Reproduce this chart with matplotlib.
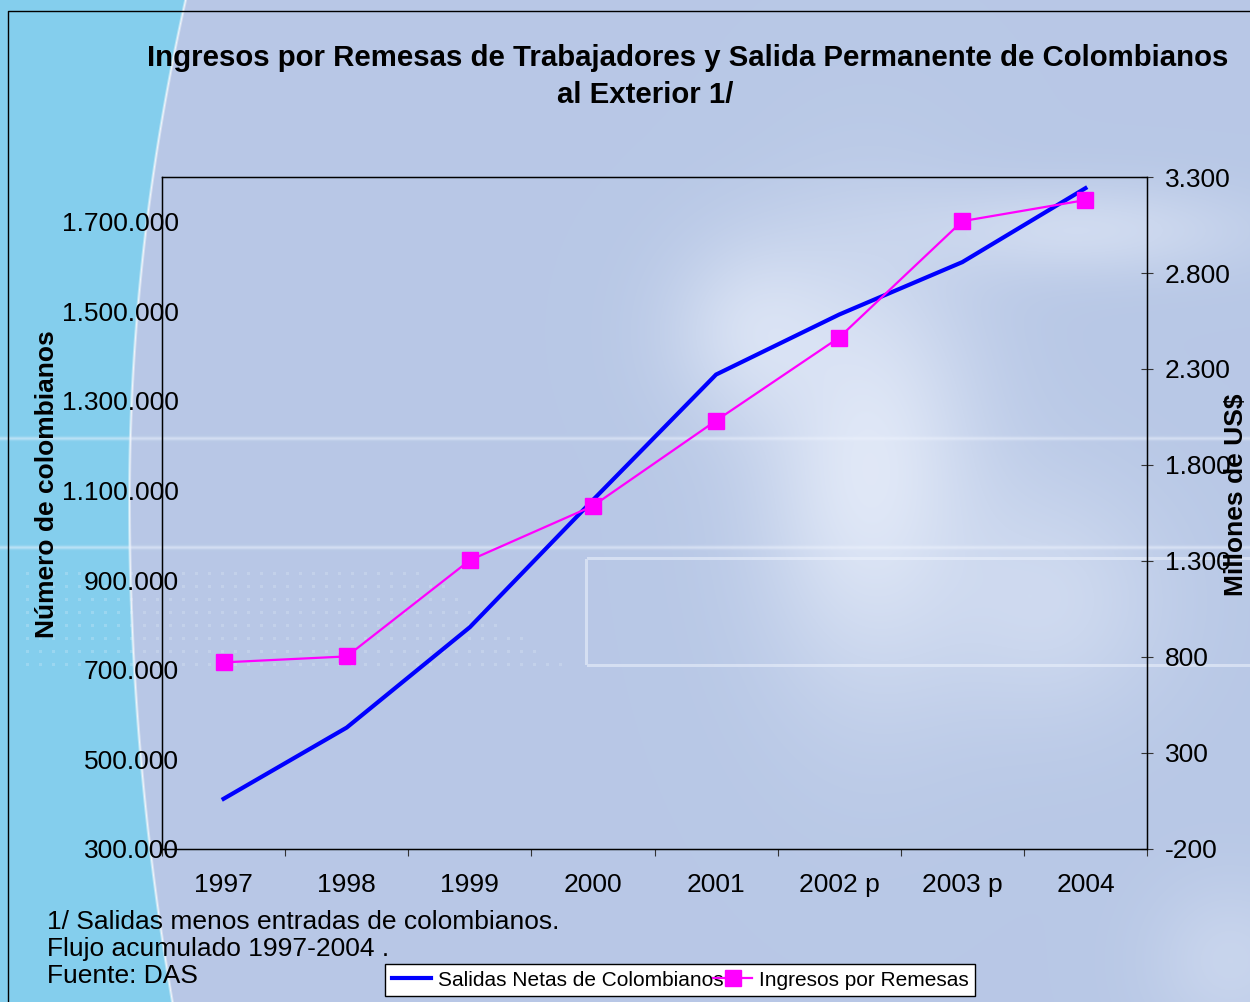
import numpy as np
import matplotlib
matplotlib.use("Agg")
import matplotlib.pyplot as plt
from matplotlib.lines import Line2D

plt.rcParams['font.family'] = ['Liberation Sans', 'DejaVu Sans']

# ---------------- data ----------------
years = ["1997", "1998", "1999", "2000", "2001", "2002 p", "2003 p", "2004"]
salidas = [412000, 571000, 795000, 1079000, 1359000, 1493000, 1610000, 1775000]
remesas = [772, 803, 1304, 1587, 2031, 2464, 3070, 3180]
left_ticks = [300000, 500000, 700000, 900000, 1100000, 1300000, 1500000, 1700000]
right_ticks = [-200, 300, 800, 1300, 1800, 2300, 2800, 3300]

W, H = 1250, 1002
fig = plt.figure(figsize=(W / 100, H / 100), dpi=100)

# ---------------- decorative background ----------------
yy, xx = np.mgrid[0:H, 0:W].astype(float)
base = np.array([0.722, 0.784, 0.902])
img = np.ones((H, W, 3)) * base

def add_white(weight):
    global img
    w = np.clip(weight, 0, 1)[..., None]
    img = img * (1 - w) + np.array([0.93, 0.95, 0.99]) * w

add_white(0.75 * np.exp(-((xx - 870) / 110) ** 2 - ((yy - 470) / 210) ** 2))
add_white(0.55 * np.exp(-((xx - 760) / 90) ** 2 - ((yy - 330) / 90) ** 2))
add_white(0.45 * np.exp(-((xx - 1080) / 170) ** 2 - ((yy - 230) / 45) ** 2))
add_white(0.40 * np.exp(-((xx - 1050) / 120) ** 2 - ((yy - 600) / 120) ** 2))
add_white(0.30 * np.exp(-((xx - 1230) / 80) ** 2 - ((yy - 960) / 80) ** 2))
# faint rectangle outline
rect = ((np.abs(yy - 558) < 1.5) | (np.abs(yy - 665) < 1.5)) & (xx > 586)
rect |= (np.abs(xx - 586) < 1.5) & (yy > 558) & (yy < 665)
add_white(0.55 * rect)

# cyan left region (smooth curve)
ys = yy[:, 0]
bnd = (129 + 56 * ((500 - ys) / 500) ** 2 * (ys < 500) + 43 * ((ys - 500) / 502) ** 2 * (ys >= 500))[:, None]
cyan = np.array([0.52, 0.81, 0.93])
mask = xx < bnd
img[mask] = cyan
edge = np.clip(1 - np.abs(xx - bnd) / 2.0, 0, 1)[..., None]
img = img * (1 - 0.8 * edge) + np.array([1, 1, 1]) * 0.8 * edge

# dotted pattern
dots = ((xx % 13) < 3) & ((yy % 13) < 3) & (yy > 568) & (yy < 668) & (xx > 15) & (xx < 420 + (yy - 568) * 1.5)
add_white(0.22 * dots)
# faint horizontal lines across the whole width
add_white(0.5 * np.exp(-((yy - 438) / 1.8) ** 2))
add_white(0.5 * np.exp(-((yy - 547) / 1.8) ** 2))

bg = fig.add_axes([0, 0, 1, 1], zorder=-10)
bg.imshow(img, aspect='auto', interpolation='bilinear')
bg.set_axis_off()

# outer frame lines
fig.add_artist(Line2D([8 / W, 8 / W, 1.0], [0, 1 - 11 / H, 1 - 11 / H],
                      transform=fig.transFigure, color='black', lw=1.0))

# ---------------- main axes ----------------
L, R, T, B = 162, 1147, 177, 849
ax = fig.add_axes([L / W, 1 - B / H, (R - L) / W, (B - T) / H])
ax.patch.set_alpha(0)
x = np.arange(len(years))
ax.plot(x, salidas, color='#0000ff', lw=3.0, solid_joinstyle='miter', zorder=3)
ax.set_xlim(-0.5, len(years) - 0.5)
ax.set_ylim(300000, 1800000)
ax.set_yticks(left_ticks)
ax.set_yticklabels([f"{v:,.0f}".replace(",", ".") for v in left_ticks], fontsize=19)
ax.tick_params(axis='y', length=0, pad=-12)
ax.set_xticks(np.arange(len(years) + 1) - 0.5)
ax.set_xticklabels([])
ax.set_xticks(x, minor=True)
ax.set_xticklabels(years, minor=True, fontsize=19)
ax.tick_params(axis='x', which='major', length=5, direction='out', color='#333333')
ax.tick_params(axis='x', which='minor', length=0, pad=17)
for s in ax.spines.values():
    s.set_color('black')
    s.set_linewidth(1.0)

ax2 = ax.twinx()
ax2.plot(x, remesas, color='#ff00ff', lw=1.6, marker='s', markersize=11,
         markeredgecolor='#ff00ff', markerfacecolor='#ff00ff', zorder=4)
ax2.set_ylim(-200, 3300)
ax2.set_yticks(right_ticks)
ax2.set_yticklabels([f"{v:,.0f}".replace(",", ".") for v in right_ticks], fontsize=19)
ax2.tick_params(axis='y', length=8, direction='inout', pad=9, color='#333333')

# axis titles
fig.text(47 / W, 1 - 484 / H, "Número de colombianos", rotation=90, ha='center', va='center',
         fontsize=19, fontweight='bold')
fig.text(1236 / W, 1 - 495 / H, "Millones de US$", rotation=90, ha='center', va='center',
         fontsize=19, fontweight='bold')

# ---------------- texts ----------------
fig.text(688 / W, 1 - 58 / H, "Ingresos por Remesas de Trabajadores y Salida Permanente de Colombianos",
         ha='center', va='center', fontsize=21.2, fontweight='bold')
fig.text(645 / W, 1 - 95 / H, "al Exterior 1/",
         ha='center', va='center', fontsize=21.2, fontweight='bold')

notes = ["1/ Salidas menos entradas de colombianos.",
         "Flujo acumulado 1997-2004 .",
         "Fuente: DAS"]
for i, t in enumerate(notes):
    fig.text(47 / W, 1 - (922 + 27 * i) / H, t, ha='left', va='center', fontsize=19)

handles = [Line2D([], [], color='#0000ff', lw=3.0),
           Line2D([], [], color='#ff00ff', lw=1.6, marker='s', markersize=11)]
leg = fig.legend(handles, ["Salidas Netas de Colombianos", "Ingresos por Remesas"],
                 loc='center', bbox_to_anchor=(680 / W, 1 - 980 / H), ncol=2,
                 fontsize=15, frameon=True, fancybox=False, framealpha=1,
                 edgecolor='black', facecolor='white', handlelength=1.9,
                 handletextpad=0.3, columnspacing=-0.5, borderpad=0.3,
                 borderaxespad=0)
leg.get_frame().set_linewidth(1.0)

fig.savefig("out.png", dpi=100)
